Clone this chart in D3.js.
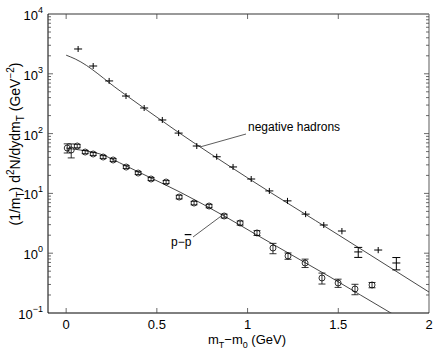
<!DOCTYPE html>
<html>
<head>
<meta charset="utf-8">
<script src="https://cdn.jsdelivr.net/npm/d3@7"></script>
<style>
  body { margin: 0; background: #fff; }
  svg text { font-family: "Liberation Sans", Arial, Helvetica, sans-serif; fill: #000; }
</style>
</head>
<body>
<div id="chart"></div>
<script>
// negative hadrons (crosses)
var hadronX = [0.066, 0.149, 0.237, 0.33, 0.43, 0.53, 0.62, 0.72, 0.83, 0.92, 1.02, 1.12, 1.22, 1.32, 1.42, 1.52, 1.61, 1.72, 1.82];
var hadronY = [2600, 1350, 760, 425, 268, 169, 102, 62, 41, 27.7, 17.4, 11, 7.5, 4.5, 2.96, 2.35, 1.05, 1.13, 0.686];
var hadronErr = [150, 80, 45, 25, 16, 10, 6, 3.7, 2.5, 1.7, 1.0, 0.7, 0.45, 0.3, 0.22, 0.28, 0.2, 0.13, 0.16];
// fit curve for negative hadrons
var hadronFitX = [0, 0.05, 0.3, 0.6, 1.0, 1.5, 2.0];
var hadronFitY = [2050, 1770, 510, 115, 18.2, 2.03, 0.224];

// p - pbar (circles)
var protonX = [0.006, 0.028, 0.061, 0.105, 0.149, 0.204, 0.259, 0.331, 0.397, 0.468, 0.551, 0.623, 0.705, 0.788, 0.871, 0.959, 1.052, 1.14, 1.223, 1.317, 1.41, 1.499, 1.592, 1.686];
var protonY = [57.4, 53.2, 62, 49.2, 45.6, 40.6, 36.2, 27.6, 21.9, 17.4, 15.5, 8.7, 6.9, 6.15, 4.19, 3.2, 2.18, 1.22, 0.9, 0.686, 0.385, 0.318, 0.252, 0.294];
var protonErr = [10, 14, 4, 3, 2.5, 2.2, 2, 1.5, 1.2, 1, 0.9, 0.6, 0.45, 0.4, 0.3, 0.25, 0.2, 0.24, 0.11, 0.11, 0.08, 0.05, 0.05, 0.03];
var protonFitX = [0, 0.077, 0.187, 0.331, 0.468, 0.628, 0.871, 1.052, 1.234, 1.455, 1.79, 2.0];
var protonFitY = [57.4, 53.2, 45.6, 28.7, 18.1, 10.5, 4.19, 2.01, 0.97, 0.40, 0.1, 0.0434];

var xTicks = [0, 0.5, 1, 1.5, 2];
var xTickLabels = ["0", "0.5", "1", "1.5", "2"];
var yExps = [-1, 0, 1, 2, 3, 4];

var W = 436, H = 351;
var pL = 48, pR = 429, pT = 14, pB = 313;

var svg = d3.select("#chart").append("svg").attr("width", W).attr("height", H);

var x = d3.scaleLinear().domain([-0.1, 2]).range([pL, pR]);
var y = d3.scaleLog().domain([0.1, 1e4]).range([pB, pT]);

svg.append("clipPath").attr("id", "clip")
  .append("rect").attr("x", pL).attr("y", pT).attr("width", pR - pL).attr("height", pB - pT);

// frame
svg.append("line").attr("x1", pL).attr("x2", pR).attr("y1", pT).attr("y2", pT)
  .attr("stroke", "#999").attr("stroke-width", 2);
svg.append("line").attr("x1", pR).attr("x2", pR).attr("y1", pT).attr("y2", pB)
  .attr("stroke", "#777").attr("stroke-width", 1.2);
svg.append("line").attr("x1", pL).attr("x2", pL).attr("y1", pT).attr("y2", pB)
  .attr("stroke", "#000").attr("stroke-width", 1);
svg.append("line").attr("x1", pL).attr("x2", pR).attr("y1", pB).attr("y2", pB)
  .attr("stroke", "#000").attr("stroke-width", 1);

// x ticks (bottom and top, inward)
var xt = svg.append("g").attr("stroke", "#444").attr("stroke-width", 0.8);
xTicks.forEach(function(t) {
  if (t >= 2) return;
  xt.append("line").attr("x1", x(t)).attr("x2", x(t)).attr("y1", pB).attr("y2", pB - 5);
  xt.append("line").attr("x1", x(t)).attr("x2", x(t)).attr("y1", pT).attr("y2", pT + 5);
});
svg.selectAll(".xlab").data(xTicks).enter().append("text")
  .attr("class", "xlab")
  .attr("x", function(d) { return x(d); })
  .attr("y", pB + 16)
  .attr("text-anchor", "middle")
  .attr("font-size", 13)
  .text(function(d, i) { return xTickLabels[i]; });

// y ticks (left and right, inward, with minor ticks)
var yt = svg.append("g").attr("stroke", "#444").attr("stroke-width", 0.8);
yExps.forEach(function(e) {
  var base = Math.pow(10, e);
  [pL, pR].forEach(function(px) {
    var dir = px === pL ? 1 : -1;
    if (e > -1 && e < 4) {
      yt.append("line").attr("x1", px).attr("x2", px + dir * 5).attr("y1", y(base)).attr("y2", y(base));
    }
    if (e < 4) {
      for (var k = 2; k <= 9; k++) {
        yt.append("line").attr("x1", px).attr("x2", px + dir * 3)
          .attr("y1", y(base * k)).attr("y2", y(base * k));
      }
    }
  });
});
var ylab = svg.selectAll(".ylab").data(yExps).enter().append("text")
  .attr("class", "ylab")
  .attr("x", pL - 5)
  .attr("y", function(d) { return y(Math.pow(10, d)) + 6; })
  .attr("text-anchor", "end")
  .attr("font-size", 13);
ylab.append("tspan").text("10");
ylab.append("tspan").attr("dy", -7).attr("font-size", 9)
  .text(function(d) { return d < 0 ? "\u2212" + (-d) : d; });

// axis titles
var xtitle = svg.append("text").attr("x", 247).attr("y", 344)
  .attr("text-anchor", "middle").attr("font-size", 13);
xtitle.append("tspan").text("m");
xtitle.append("tspan").attr("dy", 4).attr("font-size", 9).text("T");
xtitle.append("tspan").attr("dy", -4).text("\u2212m");
xtitle.append("tspan").attr("dy", 4).attr("font-size", 9).text("0");
xtitle.append("tspan").attr("dy", -4).text(" (GeV)");

var ytitle = svg.append("text")
  .attr("transform", "translate(20," + 144 + ") rotate(-90)")
  .attr("text-anchor", "middle").attr("font-size", 14);
ytitle.append("tspan").text("(1/m");
ytitle.append("tspan").attr("dy", 4).attr("font-size", 10).text("T");
ytitle.append("tspan").attr("dy", -4).text(") d");
ytitle.append("tspan").attr("dy", -6).attr("font-size", 10).text("2");
ytitle.append("tspan").attr("dy", 6).text("N/dydm");
ytitle.append("tspan").attr("dy", 4).attr("font-size", 10).text("T");
ytitle.append("tspan").attr("dy", -4).text(" (GeV");
ytitle.append("tspan").attr("dy", -6).attr("font-size", 10).text("\u22122");
ytitle.append("tspan").attr("dy", 6).text(")");

// fit lines
var plot = svg.append("g").attr("clip-path", "url(#clip)");
var line = d3.line()
  .x(function(d) { return x(d[0]); })
  .y(function(d) { return y(d[1]); })
  .curve(d3.curveMonotoneX);
plot.append("path").datum(d3.zip(hadronFitX, hadronFitY))
  .attr("d", line).attr("fill", "none").attr("stroke", "#333").attr("stroke-width", 0.9);
plot.append("path").datum(d3.zip(protonFitX, protonFitY))
  .attr("d", line).attr("fill", "none").attr("stroke", "#333").attr("stroke-width", 0.9);

// hadron points: crosses with error bars
var hadrons = d3.range(hadronX.length).map(function(i) {
  return { x: hadronX[i], v: hadronY[i], e: hadronErr[i] };
});
var hg = plot.append("g").attr("stroke", "#000").attr("stroke-width", 1);
hadrons.forEach(function(d) {
  var cx = x(d.x), cy = y(d.v);
  var y1 = Math.min(y(d.v + d.e), cy - 3), y2 = Math.max(y(d.v - d.e), cy + 3);
  hg.append("line").attr("x1", cx).attr("x2", cx).attr("y1", y1).attr("y2", y2);
  hg.append("line").attr("x1", cx - 4).attr("x2", cx + 4).attr("y1", cy).attr("y2", cy);
  if (y2 - y1 > 7) {
    hg.append("line").attr("x1", cx - 4).attr("x2", cx + 4).attr("y1", y1).attr("y2", y1);
    hg.append("line").attr("x1", cx - 4).attr("x2", cx + 4).attr("y1", y2).attr("y2", y2);
  }
});

// p-pbar points: circles with error bars
var protons = d3.range(protonX.length).map(function(i) {
  return { x: protonX[i], v: protonY[i], e: protonErr[i] };
});
var pg = plot.append("g").attr("stroke", "#000").attr("stroke-width", 0.8).attr("fill", "none");
protons.forEach(function(d) {
  var cx = x(d.x), cy = y(d.v);
  var y1 = y(d.v + d.e), y2 = y(d.v - d.e);
  pg.append("line").attr("x1", cx).attr("x2", cx).attr("y1", y1).attr("y2", y2);
  pg.append("line").attr("x1", cx - 3.5).attr("x2", cx + 3.5).attr("y1", y1).attr("y2", y1);
  pg.append("line").attr("x1", cx - 3.5).attr("x2", cx + 3.5).attr("y1", y2).attr("y2", y2);
  pg.append("circle").attr("cx", cx).attr("cy", cy).attr("r", 3);
});

// annotations
svg.append("line").attr("x1", x(0.74)).attr("y1", y(60)).attr("x2", 246).attr("y2", 134)
  .attr("stroke", "#333").attr("stroke-width", 0.8);
svg.append("text").attr("x", 248).attr("y", 131).attr("font-size", 12).text("negative hadrons");

svg.append("line").attr("x1", 193).attr("y1", 237).attr("x2", x(0.86)).attr("y2", y(4.3))
  .attr("stroke", "#333").attr("stroke-width", 0.8);
var pl = svg.append("text").attr("x", 171).attr("y", 246).attr("font-size", 12);
pl.append("tspan").text("p\u2212");
pl.append("tspan").attr("text-decoration", "overline").text("p");
</script>
</body>
</html>
